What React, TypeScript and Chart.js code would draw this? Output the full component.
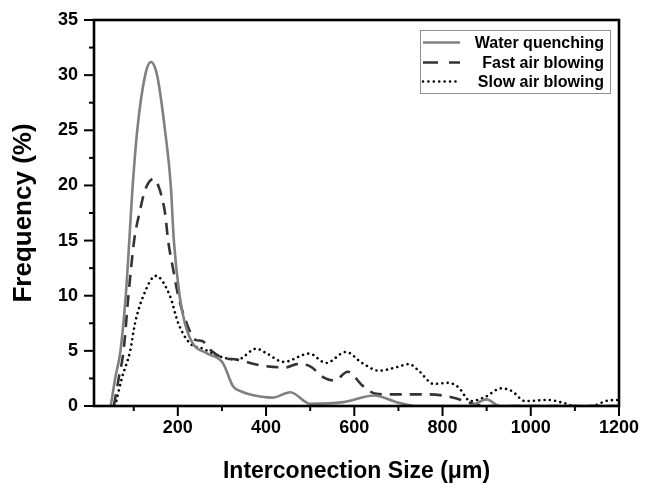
import React, { useEffect, useRef } from 'react';
import { Chart, registerables } from 'chart.js';

Chart.register(...registerables);

const FONT = '"Liberation Sans", Arial, Helvetica, sans-serif';

const seriesLabels = ['Water quenching', 'Fast air blowing', 'Slow air blowing'];

const waterX = [48, 58, 70, 82, 90, 96, 108, 126, 139, 153, 171, 184, 191, 204, 216, 235, 265, 302, 325, 347, 362, 415, 455, 500, 575, 645, 700, 740, 860, 900, 930, 1200];
const waterY = [0, 2.5, 5, 10, 15, 19, 25, 30, 31.2, 30, 25, 20, 15, 10, 7.5, 5.6, 4.8, 3.9, 1.8, 1.27, 1.06, 0.76, 1.25, 0.2, 0.35, 0.95, 0.3, 0, 0, 0.6, 0, 0];

const fastX = [55, 66, 77, 88, 101, 113, 126, 145, 159, 171, 178, 189, 201, 220, 240, 255, 276, 300, 335, 385, 445, 470, 500, 530, 555, 585, 620, 650, 700, 770, 820, 870, 900, 1200];
const fastY = [0, 2.5, 5, 10, 15, 17.5, 19.6, 20.6, 19.6, 17.5, 15, 12.5, 10, 7.5, 6.0, 5.9, 5.0, 4.4, 4.2, 3.7, 3.5, 3.8, 3.6, 2.6, 2.3, 3.1, 1.8, 1.1, 1.05, 1.05, 0.8, 0.2, 0, 0];

const slowX = [58, 73, 92, 103, 122, 150, 182, 201, 227, 257, 295, 335, 378, 400, 440, 498, 536, 581, 618, 656, 694, 724, 746, 780, 813, 836, 863, 893, 934, 957, 987, 1040, 1077, 1100, 1137, 1175, 1200];
const slowY = [0, 2.5, 5, 7.5, 10, 11.8, 10, 7.5, 5.7, 5.2, 4.5, 4.2, 5.2, 4.8, 4.0, 4.75, 3.9, 4.9, 3.9, 3.2, 3.5, 3.8, 3.2, 2.0, 2.1, 1.7, 0.45, 0.75, 1.6, 1.36, 0.45, 0.55, 0.25, 0, 0, 0.5, 0.55];

const xTickValues = [100, 200, 300, 400, 500, 600, 700, 800, 900, 1000, 1100, 1200];
const xLabelValues = [200, 400, 600, 800, 1000, 1200];
const yTickValues = [0, 5, 10, 15, 20, 25, 30, 35];
const yMinorValues = [2.5, 7.5, 12.5, 17.5, 22.5, 27.5, 32.5];

const xTitle = 'Interconection Size (\u03bcm)';
const yTitle = 'Frequency (%)';

const toPoints = (xs: number[], ys: number[]) => xs.map((x, i) => ({ x, y: ys[i] }));

const seriesStyles = [
  { color: '#808080', width: 2.6, dash: [] as number[], legendDash: [] as number[], cap: 'butt' },
  { color: '#333333', width: 2.6, dash: [12, 8], legendDash: [15, 11], cap: 'butt' },
  { color: '#000000', width: 2.6, dash: [0.01, 5.3], legendDash: [0.01, 5.4], cap: 'round' },
];

const zeroPad = (s: any) => {
  s.paddingTop = 0;
  s.paddingBottom = 0;
  s.paddingLeft = 0;
  s.paddingRight = 0;
};

const framePlugin = {
  id: 'framePlugin',
  afterDraw(chart: any) {
    const { ctx, chartArea: a, scales } = chart;
    const xs = scales.x;
    const ys = scales.y;
    ctx.save();
    ctx.strokeStyle = '#000';
    ctx.lineWidth = 2;
    ctx.setLineDash([]);
    for (const v of yTickValues) {
      const y = ys.getPixelForValue(v);
      ctx.beginPath();
      ctx.moveTo(a.left - 10, y);
      ctx.lineTo(a.left, y);
      ctx.stroke();
    }
    for (const v of yMinorValues) {
      const y = ys.getPixelForValue(v);
      ctx.beginPath();
      ctx.moveTo(a.left - 5, y);
      ctx.lineTo(a.left, y);
      ctx.stroke();
    }
    for (const v of xTickValues) {
      const x = xs.getPixelForValue(v);
      const len = xLabelValues.includes(v) ? 10 : 5;
      ctx.beginPath();
      ctx.moveTo(x, a.bottom);
      ctx.lineTo(x, a.bottom + len);
      ctx.stroke();
    }
    ctx.lineWidth = 2.6;
    ctx.strokeRect(a.left, a.top, a.right - a.left, a.bottom - a.top);

    const boxW = 190;
    const boxH = 63;
    const bx = a.right - 9 - boxW;
    const by = a.top + 10;
    ctx.fillStyle = '#fff';
    ctx.fillRect(bx, by, boxW, boxH);
    ctx.lineWidth = 1;
    ctx.strokeStyle = '#909090';
    ctx.strokeRect(bx + 0.5, by + 0.5, boxW, boxH);
    const rowYs = [12.5, 32.5, 51.5];
    ctx.font = 'bold 16px ' + FONT;
    ctx.textAlign = 'right';
    ctx.textBaseline = 'middle';
    seriesLabels.forEach((label, i) => {
      const st = seriesStyles[i];
      const y = by + rowYs[i];
      ctx.strokeStyle = st.color;
      ctx.lineWidth = st.width;
      ctx.lineCap = st.cap;
      ctx.setLineDash(st.legendDash);
      ctx.beginPath();
      ctx.moveTo(bx + 3, y);
      ctx.lineTo(bx + 40, y);
      ctx.stroke();
      ctx.setLineDash([]);
      ctx.lineCap = 'butt';
      ctx.fillStyle = '#000';
      ctx.fillText(label, bx + boxW - 6, y + 1);
    });
    ctx.restore();
  },
};

export default function App() {
  const ref = useRef<HTMLCanvasElement>(null);
  useEffect(() => {
    const seriesX = [waterX, fastX, slowX];
    const seriesY = [waterY, fastY, slowY];
    const chart = new Chart(ref.current as HTMLCanvasElement, {
      type: 'line',
      data: {
        datasets: seriesLabels.map((label, i) => ({
          label,
          data: toPoints(seriesX[i], seriesY[i]),
          borderColor: seriesStyles[i].color,
          borderWidth: seriesStyles[i].width,
          borderDash: seriesStyles[i].dash,
          borderCapStyle: seriesStyles[i].cap as any,
          pointRadius: 0,
          fill: false,
          cubicInterpolationMode: 'monotone' as const,
        })),
      },
      options: {
        animation: false,
        responsive: false,
        devicePixelRatio: 1,
        layout: { padding: { left: 0, top: 20, right: 27, bottom: 0 } },
        plugins: { legend: { display: false }, tooltip: { enabled: false } },
        scales: {
          x: {
            type: 'linear',
            min: 10,
            max: 1200,
            grid: { display: false, drawTicks: false },
            border: { display: false },
            afterBuildTicks: (s: any) => {
              s.ticks = xTickValues.map((v) => ({ value: v }));
            },
            afterFit: (s: any) => {
              s.height = 85;
              zeroPad(s);
            },
            ticks: {
              autoSkip: false,
              maxRotation: 0,
              padding: 11,
              color: '#000',
              font: { family: FONT, size: 18, weight: 'bold' },
              callback: (v: any) => (xLabelValues.includes(Number(v)) ? String(v) : ''),
            },
            title: {
              display: true,
              text: xTitle,
              color: '#000',
              font: { family: FONT, size: 23, weight: 'bold' },
              padding: { top: 0, bottom: 6 },
            },
          },
          y: {
            type: 'linear',
            min: 0,
            max: 35,
            grid: { display: false, drawTicks: false },
            border: { display: false },
            afterBuildTicks: (s: any) => {
              s.ticks = yTickValues.map((v) => ({ value: v }));
            },
            afterFit: (s: any) => {
              s.width = 94;
              zeroPad(s);
            },
            ticks: {
              padding: 16,
              color: '#000',
              font: { family: FONT, size: 18, weight: 'bold' },
            },
            title: {
              display: true,
              text: yTitle,
              color: '#000',
              font: { family: FONT, size: 26, weight: 'bold' },
              padding: { top: 8, bottom: 0 },
            },
          },
        },
      },
      plugins: [framePlugin],
    } as any);
    return () => chart.destroy();
  }, []);
  return (
    <div style={{ position: 'absolute', left: 0, top: 0, width: 646, height: 491, background: '#fff' }}>
      <canvas ref={ref} width={646} height={491} style={{ display: 'block' }} />
    </div>
  );
}
